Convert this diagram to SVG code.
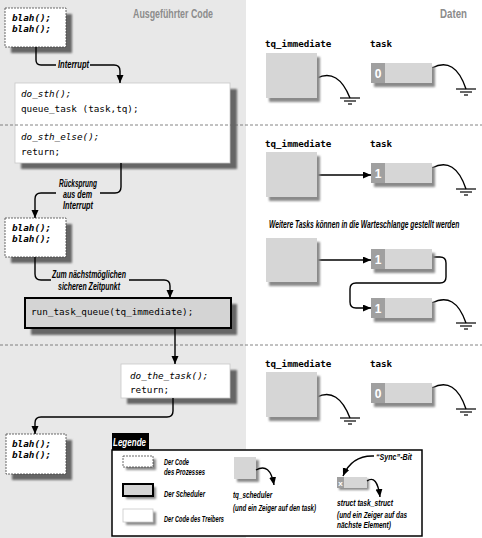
<svg xmlns="http://www.w3.org/2000/svg" width="482" height="538" viewBox="0 0 482 538">
<style>
.lbl{font-family:"Liberation Sans",Arial,sans-serif;font-weight:bold;font-style:italic;font-size:10px;fill:#000}
.leg{font-family:"Liberation Sans",Arial,sans-serif;font-weight:bold;font-style:italic;font-size:9px;fill:#000}
.title{font-family:"Liberation Sans",Arial,sans-serif;font-weight:bold;font-size:12px;fill:#8c8c8c}
.code{font-family:"DejaVu Sans Mono","Liberation Mono",monospace;font-size:9.3px;fill:#000}
.it{font-style:italic}
.bi{font-style:italic;font-weight:bold}
.dl{font-family:"DejaVu Sans Mono","Liberation Mono",monospace;font-size:9.2px;font-weight:bold;fill:#000}
.num{font-family:"Liberation Sans",Arial,sans-serif;font-weight:bold;font-size:12px;fill:#fff;text-anchor:middle}
.sh{fill:#666;filter:url(#blur)}
.dsh{fill:#8a8a8a;filter:url(#blur2)}
.proc{fill:#fff;stroke:#444;stroke-width:0.8;stroke-dasharray:2 1}
.drv{fill:#fff;stroke:#c8c8c8;stroke-width:0.8}
.sched{fill:#d4d4d4;stroke:#000;stroke-width:2}
.data{fill:#d6d6d6}
.flag{fill:#a0a0a0}
.con{fill:none;stroke:#000;stroke-width:1.4}
.gnd{stroke:#000;stroke-width:1.2}
.dash{stroke:#666;stroke-width:0.8;stroke-dasharray:3 2}
</style>
<defs>
<filter id="blur" x="-20%" y="-20%" width="140%" height="140%"><feGaussianBlur stdDeviation="1.3"/></filter>
<filter id="blur2" x="-20%" y="-20%" width="140%" height="140%"><feGaussianBlur stdDeviation="0.8"/></filter>
<marker id="arr" markerUnits="userSpaceOnUse" markerWidth="9" markerHeight="8" refX="8" refY="3.5" orient="auto"><path d="M0,0 L8,3.5 L0,7 z" fill="#000"/></marker>
<g id="ground"><line class="gnd" x1="-10" y1="0" x2="10" y2="0"/><line class="gnd" x1="-6" y1="3" x2="6" y2="3"/><line class="gnd" x1="-2" y1="6" x2="2" y2="6"/></g>
</defs>
<rect x="0" y="0" width="482" height="538" fill="#fff"/>
<rect x="0" y="0" width="246" height="538" fill="#e8e8e8"/>
<text class="title" x="133" y="18" textLength="80" lengthAdjust="spacingAndGlyphs">Ausgeführter Code</text>
<text class="title" x="440" y="18" textLength="27" lengthAdjust="spacingAndGlyphs">Daten</text>

<g id="proc1">
<rect class="sh" x="11" y="14" width="61" height="39"/>
<rect class="proc" x="5" y="8" width="61" height="39"/>
<text class="code bi" x="12" y="21">blah();</text>
<text class="code bi" x="12" y="32">blah();</text>
</g>
<g id="driver1">
<rect class="sh" x="21" y="89" width="216" height="80"/>
<rect class="drv" x="15" y="83" width="215" height="80"/>
<text class="code it" x="21" y="97">do_sth();</text>
<text class="code" x="21" y="112">queue_task (task,tq);</text>
<text class="code it" x="21" y="140">do_sth_else();</text>
<text class="code" x="21" y="155">return;</text>
</g>
<g id="proc2">
<rect class="sh" x="11" y="224" width="61" height="39"/>
<rect class="proc" x="5" y="218" width="61" height="39"/>
<text class="code bi" x="12" y="231">blah();</text>
<text class="code bi" x="12" y="242">blah();</text>
</g>
<g id="scheduler">
<rect class="sh" x="31" y="304" width="206" height="31"/>
<rect class="sched" x="25" y="298" width="206" height="30"/>
<text class="code" x="31" y="315">run_task_queue(tq_immediate);</text>
</g>
<g id="driver2">
<rect class="sh" x="127" y="370" width="110" height="34"/>
<rect class="drv" x="121" y="364" width="109" height="34"/>
<text class="code it" x="130" y="379">do_the_task();</text>
<text class="code" x="130" y="393">return;</text>
</g>
<g id="proc3">
<rect class="sh" x="12" y="440" width="60" height="40"/>
<rect class="proc" x="6" y="434" width="60" height="40"/>
<text class="code bi" x="12" y="447">blah();</text>
<text class="code bi" x="12" y="458">blah();</text>
</g>

<line class="dash" x1="0" y1="125" x2="482" y2="125"/>
<line class="dash" x1="0" y1="345" x2="482" y2="345"/>

<g id="connectors">
<path class="con" marker-end="url(#arr)" d="M36,47 V60 Q36,65 41,65 H56 M90,65 H114 Q120,65 120,71 V83"/>
<path class="con" marker-end="url(#arr)" d="M121,163 V187 Q121,193 115,193 H100 M56,193 H41 Q35,193 35,199 V218"/>
<path class="con" marker-end="url(#arr)" d="M35,257 V274 Q35,280 41,280 H51 M129,280 H164 Q170,280 170,286 V298"/>
<path class="con" marker-end="url(#arr)" d="M175,328 V364"/>
<path class="con" marker-end="url(#arr)" d="M173,398 V411 Q173,417 167,417 H41 Q35,417 35,423 V434"/>
<path class="con" d="M317,78 Q338,68 350,98"/>
<path class="con" d="M432,68 Q455,56 466,89"/>
<path class="con" marker-end="url(#arr)" d="M317,175 H371"/>
<path class="con" d="M432,168 Q455,156 466,189"/>
<path class="con" marker-end="url(#arr)" d="M317,260 H371"/>
<path class="con" marker-end="url(#arr)" d="M432,257 H440 Q446,257 446,263 V277 Q446,283 440,283 H356 Q350,283 350,289 V302 Q350,308 356,308 H371"/>
<path class="con" d="M432,303 Q455,291 466,323"/>
<path class="con" d="M317,397 Q338,387 350,418"/>
<path class="con" d="M432,388 Q455,376 466,409"/>
<use href="#ground" x="350" y="98"/>
<use href="#ground" x="466" y="89"/>
<use href="#ground" x="466" y="189"/>
<use href="#ground" x="466" y="323"/>
<use href="#ground" x="350" y="418"/>
<use href="#ground" x="466" y="409"/>
</g>

<text class="lbl" x="58" y="68" textLength="31" lengthAdjust="spacingAndGlyphs">Interrupt</text>
<text class="lbl" x="59" y="187" textLength="38" lengthAdjust="spacingAndGlyphs">Rücksprung</text>
<text class="lbl" x="63" y="198" textLength="29" lengthAdjust="spacingAndGlyphs">aus dem</text>
<text class="lbl" x="63" y="209" textLength="30" lengthAdjust="spacingAndGlyphs">Interrupt</text>
<text class="lbl" x="52" y="278" textLength="74" lengthAdjust="spacingAndGlyphs">Zum nächstmöglichen</text>
<text class="lbl" x="58" y="290" textLength="62" lengthAdjust="spacingAndGlyphs">sicheren Zeitpunkt</text>

<g id="row1">
<text class="dl" x="265" y="47">tq_immediate</text>
<text class="dl" x="370" y="47">task</text>
<rect class="dsh" x="269" y="57" width="51" height="45"/>
<rect class="data" x="266" y="53" width="51" height="45"/>
<rect class="dsh" x="374" y="67" width="61" height="20"/>
<rect class="data" x="371" y="63" width="61" height="20"/>
<rect class="flag" x="371" y="63" width="14" height="20"/>
<text class="num" x="378" y="78">0</text>
</g>
<g id="row2">
<text class="dl" x="265" y="147">tq_immediate</text>
<text class="dl" x="370" y="147">task</text>
<rect class="dsh" x="269" y="156" width="51" height="45"/>
<rect class="data" x="266" y="152" width="51" height="45"/>
<rect class="dsh" x="374" y="167" width="61" height="20"/>
<rect class="data" x="371" y="163" width="61" height="20"/>
<rect class="flag" x="371" y="163" width="14" height="20"/>
<text class="num" x="378" y="178">1</text>
</g>
<g id="row3">
<text class="lbl" transform="translate(269,228) scale(0.67,1)" x="0" y="0" textLength="284" lengthAdjust="spacingAndGlyphs">Weitere Tasks können in die Warteschlange gestellt werden</text>
<rect class="dsh" x="269" y="242" width="51" height="44"/>
<rect class="data" x="266" y="238" width="51" height="44"/>
<rect class="dsh" x="374" y="253" width="61" height="20"/>
<rect class="data" x="371" y="249" width="61" height="20"/>
<rect class="flag" x="371" y="249" width="14" height="20"/>
<text class="num" x="378" y="264">1</text>
<rect class="dsh" x="374" y="302" width="61" height="20"/>
<rect class="data" x="371" y="298" width="61" height="20"/>
<rect class="flag" x="371" y="298" width="14" height="20"/>
<text class="num" x="378" y="313">1</text>
</g>
<g id="row4">
<text class="dl" x="265" y="367">tq_immediate</text>
<text class="dl" x="370" y="367">task</text>
<rect class="dsh" x="269" y="376" width="51" height="45"/>
<rect class="data" x="266" y="372" width="51" height="45"/>
<rect class="dsh" x="374" y="387" width="61" height="20"/>
<rect class="data" x="371" y="383" width="61" height="20"/>
<rect class="flag" x="371" y="383" width="14" height="20"/>
<text class="num" x="378" y="398">0</text>
</g>

<g id="legend">
<rect x="112" y="433" width="37" height="17" fill="#000"/>
<text class="leg" x="113" y="446" style="fill:#fff;font-size:10px" textLength="33" lengthAdjust="spacingAndGlyphs">Legende</text>
<rect x="112" y="450" width="310" height="86" fill="#fff" stroke="#000" stroke-width="1.5"/>
<rect class="dsh" x="126" y="459" width="30" height="11"/>
<rect class="proc" x="123" y="456" width="30" height="11"/>
<text class="leg" x="164" y="465" textLength="25" lengthAdjust="spacingAndGlyphs">Der Code</text>
<text class="leg" x="164" y="475" textLength="41" lengthAdjust="spacingAndGlyphs">des Prozesses</text>
<rect class="dsh" x="126" y="487" width="30" height="12"/>
<rect class="sched" x="123" y="484" width="30" height="12"/>
<text class="leg" x="164" y="497" textLength="41" lengthAdjust="spacingAndGlyphs">Der Scheduler</text>
<rect class="dsh" x="126" y="512" width="30" height="13"/>
<rect class="drv" x="123" y="509" width="30" height="13"/>
<text class="leg" x="164" y="522" textLength="60" lengthAdjust="spacingAndGlyphs">Der Code des Treibers</text>
<rect class="dsh" x="237" y="460" width="22" height="22"/>
<rect class="data" x="234" y="457" width="22" height="22"/>
<path class="con" marker-end="url(#arr)" d="M256,470 Q270,462 274,485"/>
<text class="leg" transform="translate(233,498) scale(0.7,1)" x="0" y="0" textLength="56" lengthAdjust="spacingAndGlyphs">tq_scheduler</text>
<text class="leg" transform="translate(233,511) scale(0.68,1)" x="0" y="0" textLength="122" lengthAdjust="spacingAndGlyphs">(und ein Zeiger auf den task)</text>
<text class="leg" x="376" y="460" textLength="36" lengthAdjust="spacingAndGlyphs">“Sync”-Bit</text>
<path class="con" marker-end="url(#arr)" d="M374,456 Q352,455 343,476"/>
<rect class="dsh" x="339" y="479" width="30" height="11"/>
<rect class="data" x="337" y="477" width="30" height="11"/>
<rect class="flag" x="337" y="477" width="7" height="11"/>
<text class="num" x="340.5" y="486" style="font-size:8px">x</text>
<path class="con" marker-end="url(#arr)" d="M367,481 Q377,474 380,497"/>
<text class="leg" transform="translate(337,506) scale(0.7,1)" x="0" y="0" textLength="80" lengthAdjust="spacingAndGlyphs">struct task_struct</text>
<text class="leg" transform="translate(337,518) scale(0.7,1)" x="0" y="0" textLength="100" lengthAdjust="spacingAndGlyphs">(und ein Zeiger auf das</text>
<text class="leg" transform="translate(337,528) scale(0.7,1)" x="0" y="0" textLength="77" lengthAdjust="spacingAndGlyphs">nächste Element)</text>
</g>
</svg>
